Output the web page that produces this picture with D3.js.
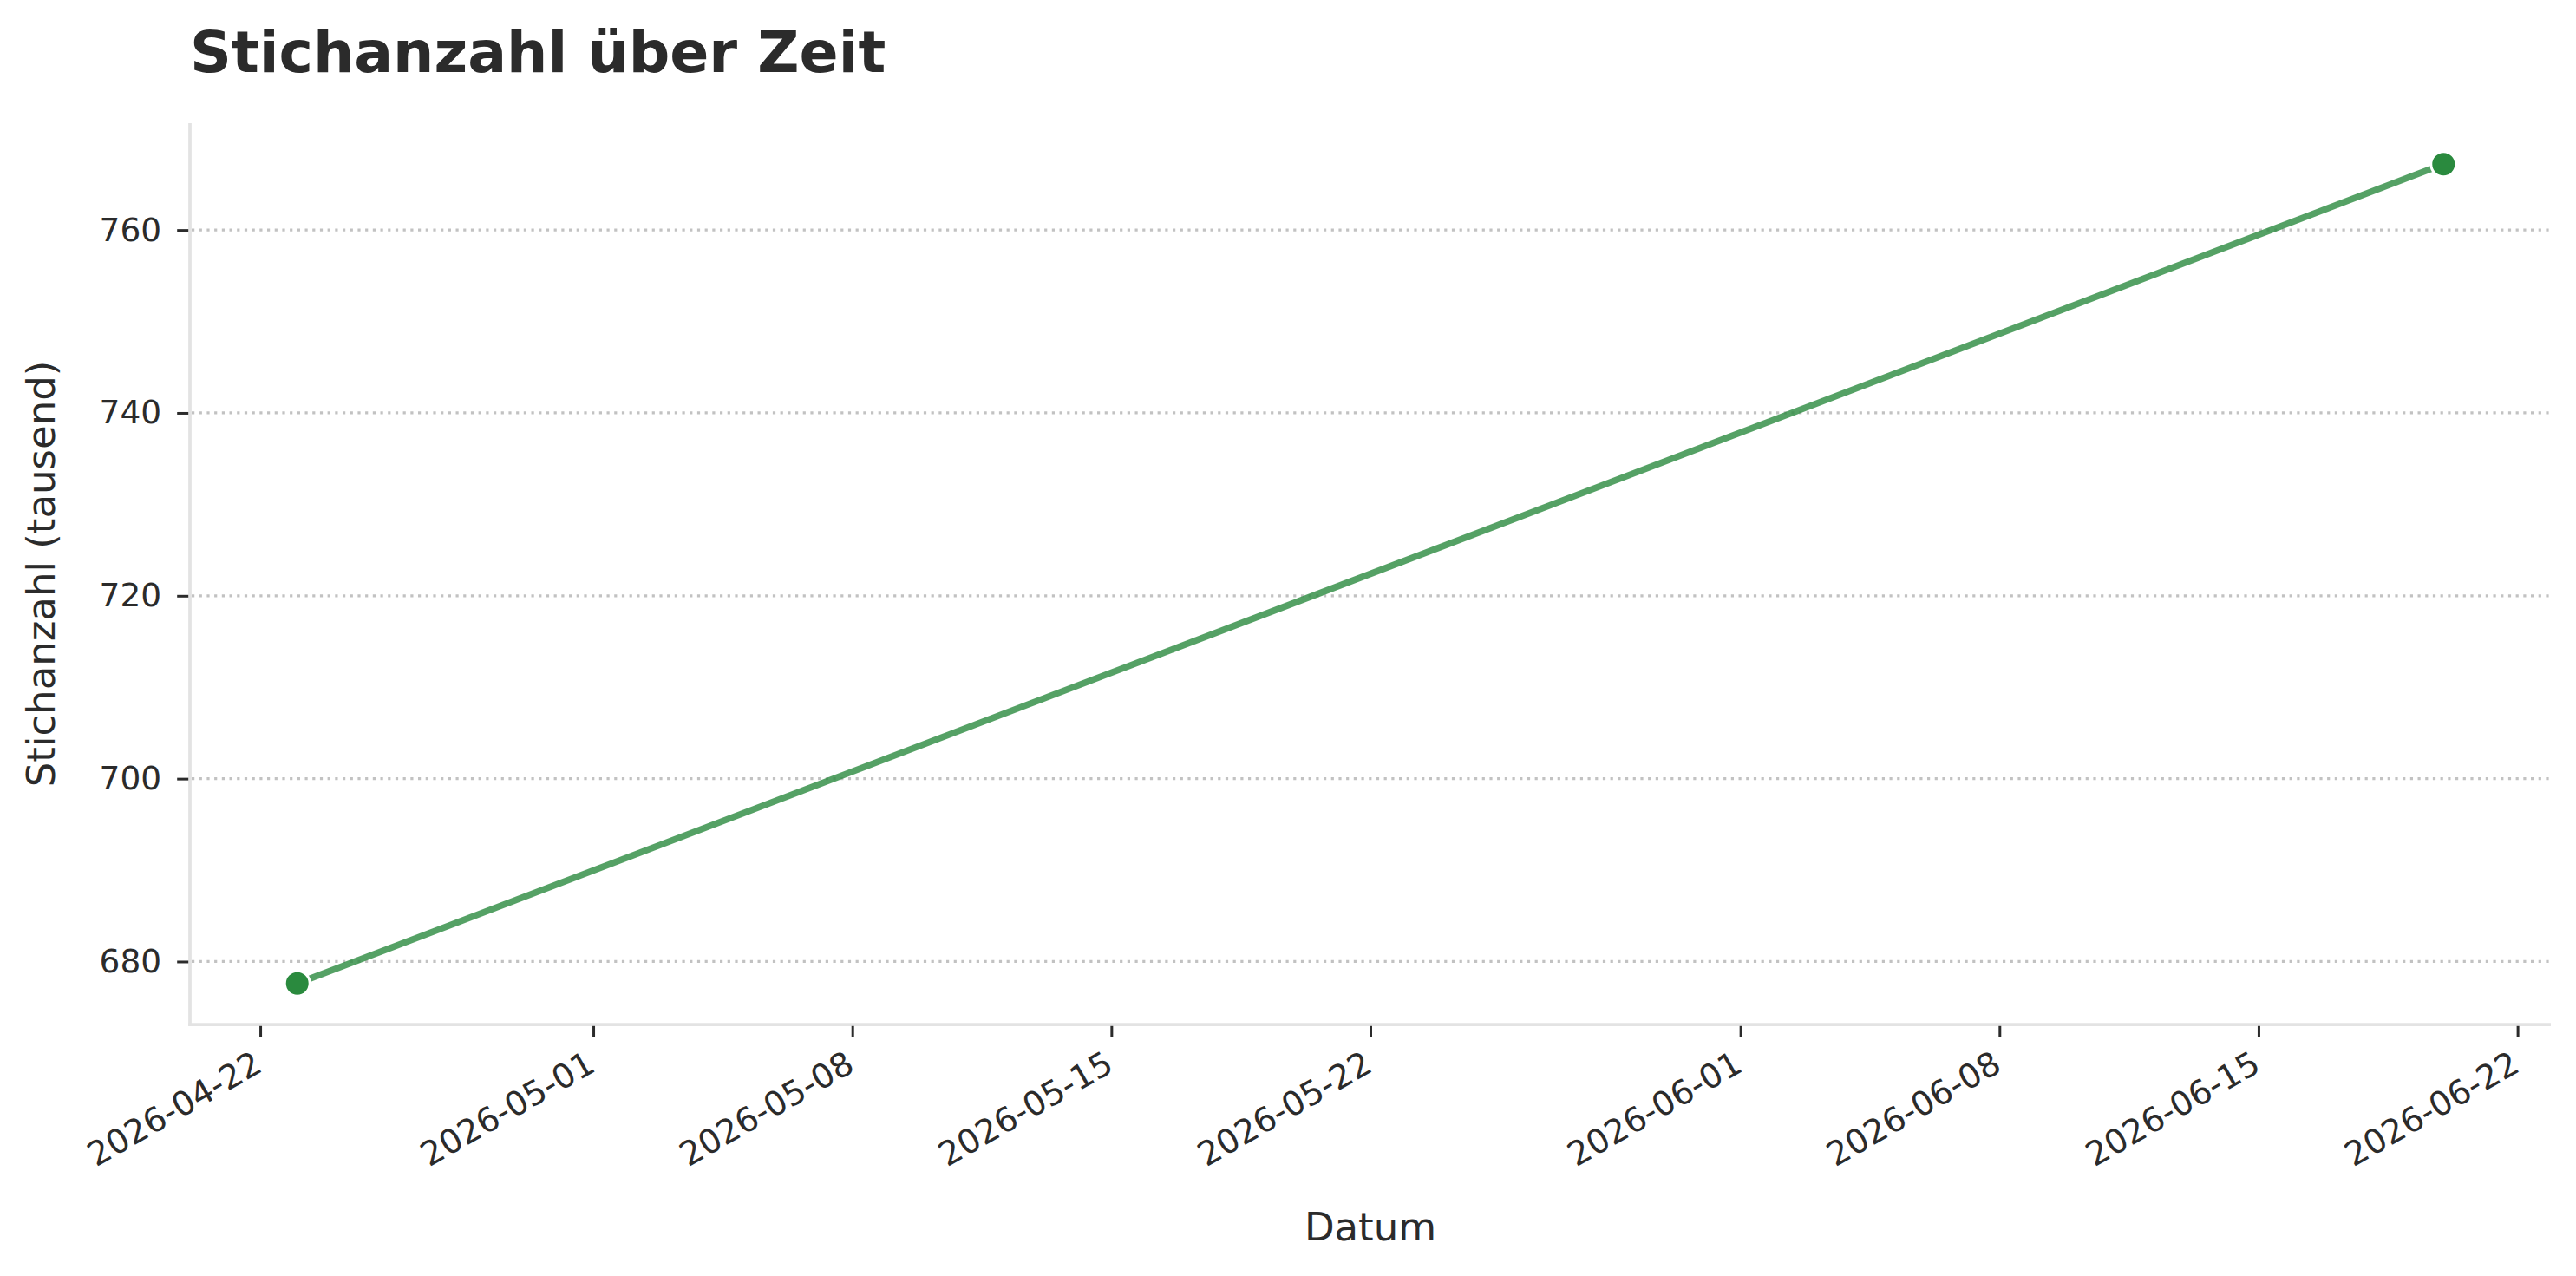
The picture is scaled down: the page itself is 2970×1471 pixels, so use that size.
<!DOCTYPE html>
<html>
<head>
<meta charset="utf-8">
<script src="https://cdn.jsdelivr.net/npm/d3@7"></script>
<style>
  body { margin: 0; background: #fff; }
  svg { display: block; font-family: "DejaVu Sans", sans-serif; }
</style>
</head>
<body>
<svg id="chart"></svg>
<script>
// Chart data
const dates = ['2026-04-23', '2026-06-20'];
const stitches = [677.6, 767.2]; // thousands
const xTickLabels = ['2026-04-22', '2026-05-01', '2026-05-08', '2026-05-15', '2026-05-22',
  '2026-06-01', '2026-06-08', '2026-06-15', '2026-06-22'];
const yTicks = [680, 700, 720, 740, 760];

const width = 2970;
const height = 1471;
const margin = { top: 142, right: 29, bottom: 290, left: 219 };

const TEXT = '#2b2b2b';
const GREEN = '#2a8a3e';

const parse = d3.utcParse('%Y-%m-%d');
const points = dates.map((d, i) => ({ date: parse(d), value: stitches[i] }));

const svg = d3.select('#chart')
  .attr('width', width)
  .attr('height', height);

// matplotlib-like 5% margins around the data
const xExt = d3.extent(points, d => +d.date);
const xPad = (xExt[1] - xExt[0]) * 0.05;
const x = d3.scaleUtc()
  .domain([new Date(xExt[0] - xPad), new Date(xExt[1] + xPad)])
  .range([margin.left, width - margin.right]);

const yExt = d3.extent(stitches);
const yPad = (yExt[1] - yExt[0]) * 0.05;
const y = d3.scaleLinear()
  .domain([yExt[0] - yPad, yExt[1] + yPad])
  .range([height - margin.bottom, margin.top]);

const x0 = margin.left, x1 = width - margin.right;
const y0 = height - margin.bottom, y1 = margin.top;

// horizontal dotted grid
svg.append('g')
  .selectAll('line')
  .data(yTicks)
  .join('line')
  .attr('x1', x0 + 2)
  .attr('x2', x1)
  .attr('y1', d => y(d))
  .attr('y2', d => y(d))
  .attr('stroke', '#c2c2c2')
  .attr('stroke-width', 3.2)
  .attr('stroke-dasharray', '3.2,5.5');

// line + markers
const line = d3.line()
  .x(d => x(d.date))
  .y(d => y(d.value));

svg.append('path')
  .datum(points)
  .attr('d', line)
  .attr('fill', 'none')
  .attr('stroke', GREEN)
  .attr('stroke-opacity', 0.8)
  .attr('stroke-width', 7.5);

svg.append('g')
  .selectAll('circle')
  .data(points)
  .join('circle')
  .attr('cx', d => x(d.date))
  .attr('cy', d => y(d.value))
  .attr('r', 14.5)
  .attr('fill', GREEN)
  .attr('stroke', '#fff')
  .attr('stroke-width', 3);

// spines (left + bottom only)
svg.append('line')
  .attr('x1', x0).attr('x2', x0)
  .attr('y1', y1).attr('y2', y0 + 1.8)
  .attr('stroke', '#e3e3e3')
  .attr('stroke-width', 3.75);
svg.append('line')
  .attr('x1', x0 - 1.8).attr('x2', x1)
  .attr('y1', y0).attr('y2', y0)
  .attr('stroke', '#e3e3e3')
  .attr('stroke-width', 3.75);

// x axis
const xAxis = svg.append('g')
  .attr('transform', `translate(0,${y0 + 1.8})`)
  .call(d3.axisBottom(x)
    .tickValues(xTickLabels.map(parse))
    .tickFormat(d3.utcFormat('%Y-%m-%d'))
    .tickSize(13));
xAxis.select('.domain').remove();
xAxis.selectAll('.tick line').attr('stroke', TEXT).attr('stroke-width', 3);
xAxis.selectAll('.tick text')
  .attr('x', 0)
  .attr('y', 0)
  .attr('dy', null)
  .attr('text-anchor', 'end')
  .attr('transform', 'translate(4,51) rotate(-30)')
  .attr('fill', TEXT)
  .style('font-size', '38.5px')
  .style('font-family', '"DejaVu Sans", sans-serif');

// y axis
const yAxis = svg.append('g')
  .attr('transform', `translate(${x0 - 1.8},0)`)
  .call(d3.axisLeft(y)
    .tickValues(yTicks)
    .tickSize(13)
    .tickPadding(18));
yAxis.select('.domain').remove();
yAxis.selectAll('.tick line').attr('stroke', TEXT).attr('stroke-width', 3);
yAxis.selectAll('.tick text')
  .attr('fill', TEXT)
  .style('font-size', '37.5px')
  .style('font-family', '"DejaVu Sans", sans-serif');

// axis titles
svg.append('text')
  .attr('x', (x0 + x1) / 2)
  .attr('y', 1430)
  .attr('text-anchor', 'middle')
  .attr('fill', TEXT)
  .style('font-size', '45px')
  .text('Datum');

svg.append('text')
  .attr('transform', `translate(63,${(y0 + y1) / 2}) rotate(-90)`)
  .attr('text-anchor', 'middle')
  .attr('fill', TEXT)
  .style('font-size', '45px')
  .text('Stichanzahl (tausend)');

// title
svg.append('text')
  .attr('x', x0)
  .attr('y', 83)
  .attr('fill', TEXT)
  .style('font-size', '66.5px')
  .style('font-weight', 'bold')
  .text('Stichanzahl über Zeit');
</script>
</body>
</html>
